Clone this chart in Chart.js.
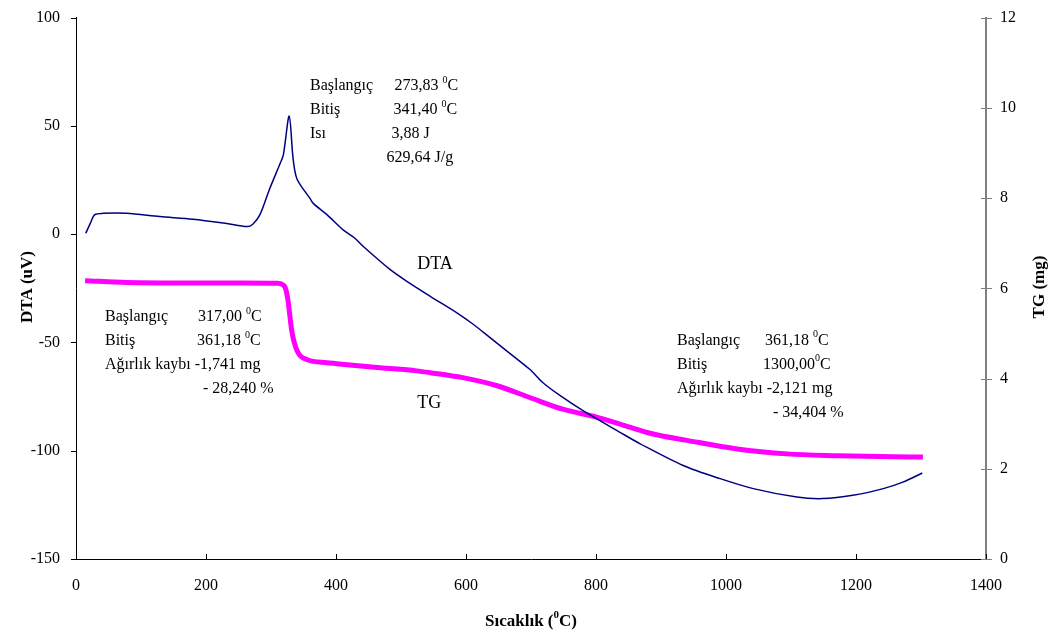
<!DOCTYPE html>
<html>
<head>
<meta charset="utf-8">
<script src="https://cdn.jsdelivr.net/npm/chart.js@4.4.0/dist/chart.umd.min.js"></script>
<style>
  html, body { margin: 0; padding: 0; background: #fff; }
  #wrap { width: 1059px; height: 638px; }
</style>
</head>
<body>
<div id="wrap"><canvas id="chart" width="1059" height="638"></canvas></div>
<script>
// DTA curve (temperature degC, uV)
var dtaTemp = [15, 22, 29, 42, 78, 129, 180, 232, 263, 272, 283, 298, 314, 319, 328, 334, 340, 360, 365, 386,
               411, 429, 442, 483, 509, 545, 586, 611, 637, 663, 698, 718, 745, 780, 837, 868, 934, 991,
               1042, 1109, 1149, 1195, 1242, 1272, 1302];
var dtaValues = [0.4, 5, 9, 9.6, 9.6, 8.1, 6.9, 4.9, 3.5, 4.6, 9, 21, 32.6, 36.6, 54.5, 34.9, 25.5, 16.5, 14.2, 9,
                 2.0, -1.9, -5.7, -16.3, -21.8, -28.7, -36.3, -41.6, -47.8, -54, -62.4, -68.5, -74.6, -81.5, -91.5, -96.8, -106.8, -112.9,
                 -117.5, -121.4, -122.1, -120.6, -117.5, -114.5, -110.3];

// TG curve (temperature degC, mg)
var tgTemp = [14, 78, 180, 257, 309, 318, 322, 326, 332, 340, 355, 386, 401, 468, 524, 545, 595, 648, 698, 749,
              802, 837, 888, 940, 1017, 1094, 1171, 1237, 1303];
var tgValues = [6.17, 6.13, 6.12, 6.12, 6.11, 6.08, 6.01, 5.75, 5.05, 4.62, 4.42, 4.35, 4.33, 4.24, 4.17, 4.13, 4.02, 3.84, 3.58, 3.32,
                3.14, 2.99, 2.77, 2.63, 2.44, 2.33, 2.29, 2.27, 2.26];

// axis ticks
var xTicks = [0, 200, 400, 600, 800, 1000, 1200, 1400];
var dtaTicks = [-150, -100, -50, 0, 50, 100];
var tgTicks = [0, 2, 4, 6, 8, 10, 12];

// annotation text, ^0 marks the superscript zero
var notesTop = [
    ['Başlangıç', '273,83 ^0C'],
    ['Bitiş', '341,40 ^0C'],
    ['Isı', '3,88 J'],
    ['', '629,64 J/g']
];
var notesLeft = [
    ['Başlangıç', '317,00 ^0C'],
    ['Bitiş', '361,18 ^0C'],
    ['Ağırlık kaybı -1,741 mg', ''],
    ['', '- 28,240 %']
];
var notesRight = [
    ['Başlangıç', '361,18 ^0C'],
    ['Bitiş', '1300,00^0C'],
    ['Ağırlık kaybı -2,121 mg', ''],
    ['', '- 34,404 %']
];

var SERIF = '"Liberation Serif", "Times New Roman", serif';

function points(xs, ys) {
    return xs.map(function (x, i) { return { x: x, y: ys[i] }; });
}

// draws text with "^0" rendered as a raised small zero
function drawSup(ctx, text, x, y, size, weight) {
    var parts = text.split('^0');
    var cx = x;
    for (var i = 0; i < parts.length; i++) {
        ctx.font = weight + ' ' + size + 'px ' + SERIF;
        ctx.fillText(parts[i], cx, y);
        cx += ctx.measureText(parts[i]).width;
        if (i < parts.length - 1) {
            ctx.font = weight + ' ' + Math.round(size * 0.62) + 'px ' + SERIF;
            ctx.fillText('0', cx, y - size * 0.38);
            cx += ctx.measureText('0').width;
        }
    }
    return cx - x;
}

function supWidth(ctx, text, size, weight) {
    var parts = text.split('^0');
    var w = 0;
    for (var i = 0; i < parts.length; i++) {
        ctx.font = weight + ' ' + size + 'px ' + SERIF;
        w += ctx.measureText(parts[i]).width;
        if (i < parts.length - 1) {
            ctx.font = weight + ' ' + Math.round(size * 0.62) + 'px ' + SERIF;
            w += ctx.measureText('0').width;
        }
    }
    return w;
}

var decorPlugin = {
    id: 'decor',
    afterDraw: function (chart) {
        var ctx = chart.ctx;
        var sx = chart.scales.x, sy = chart.scales.y, sy2 = chart.scales.y2;
        var area = chart.chartArea;
        ctx.save();

        // tick marks
        ctx.lineWidth = 1;
        ctx.strokeStyle = '#000';
        ctx.beginPath();
        dtaTicks.forEach(function (v) {
            var p = Math.round(sy.getPixelForValue(v)) + 0.5;
            ctx.moveTo(area.left - 5, p); ctx.lineTo(area.left, p);
        });
        xTicks.forEach(function (v) {
            var p = Math.round(sx.getPixelForValue(v)) + 0.5;
            ctx.moveTo(p, area.bottom); ctx.lineTo(p, area.bottom - 5);
        });
        ctx.stroke();
        ctx.strokeStyle = '#808080';
        ctx.beginPath();
        tgTicks.forEach(function (v) {
            var p = Math.round(sy2.getPixelForValue(v)) + 0.5;
            ctx.moveTo(area.right - 5, p); ctx.lineTo(area.right + 6, p);
        });
        ctx.stroke();

        // axis titles
        ctx.fillStyle = '#000';
        ctx.textBaseline = 'middle';
        ctx.textAlign = 'left';
        var t = 'Sıcaklık (^0C)';
        var w = supWidth(ctx, t, 17, 'bold');
        drawSup(ctx, t, 531 - w / 2, 622, 17, 'bold');

        ctx.textAlign = 'center';
        ctx.font = 'bold 17px ' + SERIF;
        ctx.save();
        ctx.translate(28, 287);
        ctx.rotate(-Math.PI / 2);
        ctx.fillText('DTA (uV)', 0, 0);
        ctx.restore();
        ctx.save();
        ctx.translate(1040, 287);
        ctx.rotate(-Math.PI / 2);
        ctx.fillText('TG (mg)', 0, 0);
        ctx.restore();

        // series labels
        ctx.textAlign = 'left';
        ctx.font = '18px ' + SERIF;
        ctx.fillText('DTA', sx.getPixelForValue(525), sy.getPixelForValue(-14));
        ctx.fillText('TG', sx.getPixelForValue(525), sy.getPixelForValue(-78.3));

        // annotation blocks, anchored in data space (temp, DTA)
        function block(rows, tx, dy, valueTx, valueOffsets) {
            var x0 = sx.getPixelForValue(tx);
            var y0 = sy.getPixelForValue(dy);
            rows.forEach(function (r, i) {
                var yy = y0 + i * 24;
                if (r[0]) drawSup(ctx, r[0], x0, yy, 16, 'normal');
                if (r[1]) drawSup(ctx, r[1], sx.getPixelForValue(valueTx) + valueOffsets[i], yy, 16, 'normal');
            });
        }
        block(notesTop, 360, 68.3, 490, [0, -1, -3, -8]);
        block(notesLeft, 44.6, -38.3, 187.7, [0, -1, 0, 5]);
        block(notesRight, 924.6, -49.2, 1060, [0, -2, 0, 8]);

        ctx.restore();
    }
};

var axisFont = { family: SERIF, size: 16 };
var plainLabel = function (v) { return String(v); };

new Chart(document.getElementById('chart'), {
    type: 'line',
    data: {
        datasets: [
            {
                label: 'DTA',
                data: points(dtaTemp, dtaValues),
                yAxisID: 'y',
                borderColor: '#000080',
                borderWidth: 1.5,
                pointRadius: 0,
                tension: 0.3,
                fill: false
            },
            {
                label: 'TG',
                data: points(tgTemp, tgValues),
                yAxisID: 'y2',
                borderColor: '#FF00FF',
                borderWidth: 5,
                pointRadius: 0,
                cubicInterpolationMode: 'monotone',
                fill: false
            }
        ]
    },
    options: {
        responsive: false,
        animation: false,
        layout: { padding: { top: 5, left: 0, right: 0, bottom: 0 } },
        plugins: {
            legend: { display: false },
            tooltip: { enabled: false }
        },
        scales: {
            x: {
                type: 'linear',
                min: 0, max: 1400,
                afterBuildTicks: function (s) { s.ticks = xTicks.map(function (v) { return { value: v }; }); },
                ticks: { font: axisFont, color: '#000', padding: 9, maxRotation: 0, callback: plainLabel },
                grid: { display: false },
                border: { display: true, color: '#000', width: 1 },
                afterFit: function (s) { s.height = 79; }
            },
            y: {
                position: 'left',
                min: -150, max: 100,
                afterBuildTicks: function (s) { s.ticks = dtaTicks.map(function (v) { return { value: v }; }); },
                ticks: { font: axisFont, color: '#000', padding: 8, callback: plainLabel },
                grid: { display: false },
                border: { display: true, color: '#000', width: 1 },
                afterFit: function (s) { s.width = 76; }
            },
            y2: {
                position: 'right',
                min: 0, max: 12,
                afterBuildTicks: function (s) { s.ticks = tgTicks.map(function (v) { return { value: v }; }); },
                ticks: { font: axisFont, color: '#000', padding: 6, callback: plainLabel },
                grid: { display: false },
                border: { display: true, color: '#808080', width: 2 },
                afterFit: function (s) { s.width = 73; }
            }
        }
    },
    plugins: [decorPlugin]
});
</script>
</body>
</html>
